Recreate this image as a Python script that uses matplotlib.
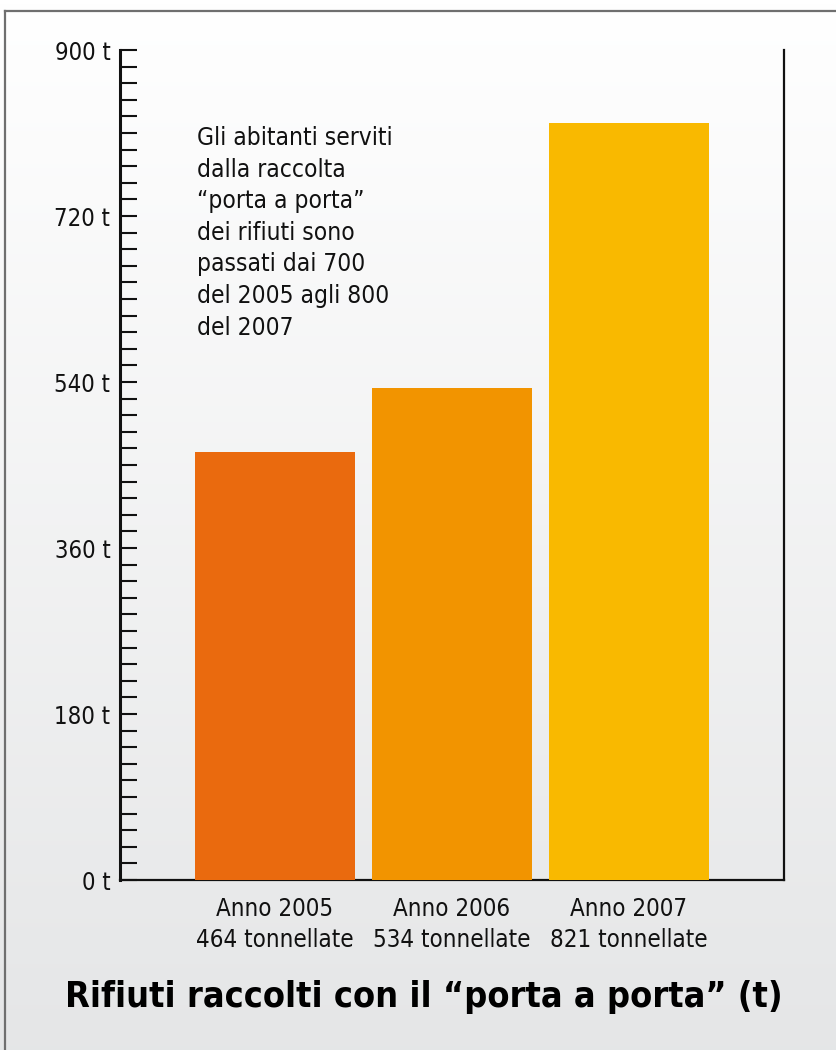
import matplotlib.pyplot as plt
import numpy as np
from matplotlib import font_manager
from matplotlib.lines import Line2D

# prefer a narrow face, like the condensed type of the original
narrow = [f for f in font_manager.fontManager.ttflist
          if "Narrow" in f.name or "ondensed" in str(f.stretch)
          or "ondensed" in f.fname]
FAMILY = narrow[0].name if narrow else "DejaVu Sans"
STRETCH = narrow[0].stretch if narrow else "normal"
plt.rcParams["font.family"] = [FAMILY, "DejaVu Sans"]
plt.rcParams["font.stretch"] = STRETCH

years = ["Anno 2005", "Anno 2006", "Anno 2007"]
tonnes = [464, 534, 821]
colors = ["#EA6A0E", "#F29400", "#F9B900"]
y_labels = [0, 180, 360, 540, 720, 900]
note = ("Gli abitanti serviti\ndalla raccolta\n\u201cporta a porta\u201d\n"
        "dei rifiuti sono\npassati dai 700\ndel 2005 agli 800\ndel 2007")
title = "Rifiuti raccolti con il \u201cporta a porta\u201d (t)"

W, H = 837, 1050
fig = plt.figure(figsize=(W / 100, H / 100), dpi=100)


def fit_width(txt, target_px):
    # shrink or grow a text so that it is as wide as in the original
    r = fig.canvas.get_renderer()
    w = txt.get_window_extent(r).width
    txt.set_fontsize(txt.get_fontsize() * target_px / w)


# background gradient
bg = fig.add_axes([0, 0, 1, 1], zorder=-10)
grad = np.linspace(1.0, 0.0, 256).reshape(-1, 1)
top_c = np.array([1.0, 1.0, 1.0])
bot_c = np.array([0.898, 0.902, 0.906])
img = bot_c + (top_c - bot_c) * grad[..., None]
bg.imshow(img, aspect="auto", extent=[0, 1, 0, 1])
bg.set_axis_off()

# frame lines at top and left
fig.add_artist(Line2D([5 / W, 1], [1 - 11 / H, 1 - 11 / H], color="#6f6f6f", lw=1.6))
fig.add_artist(Line2D([5 / W, 5 / W], [0, 1 - 11 / H], color="#6f6f6f", lw=1.6))

ax = fig.add_axes([120 / W, 1 - 880 / H, (784 - 120) / W, (880 - 50) / H])
ax.set_facecolor("none")

x = np.arange(len(years))
ax.bar(x, tonnes, width=160 / 177, color=colors, zorder=3)

ax.set_xlim(-155 / 177, 2 + 155 / 177)
ax.set_ylim(0, 900)

ax.spines["top"].set_visible(False)
ax.spines["left"].set_linewidth(2.2)
ax.spines["right"].set_linewidth(1.6)
ax.spines["bottom"].set_linewidth(1.6)
for s in ax.spines.values():
    s.set_color("#111111")

ax.set_yticks(np.arange(0, 901, 18), minor=True)
ax.set_yticks(y_labels)
ax.set_yticklabels([f"{v} t" for v in y_labels])
ax.tick_params(axis="y", which="both", direction="in", length=12,
               width=1.5, color="#111111", pad=7)
ax.tick_params(axis="y", which="major", labelcolor="#111111")

ax.set_xticks(x)
ax.set_xticklabels([f"{y}\n{t} tonnellate" for y, t in zip(years, tonnes)],
                   linespacing=1.38)
ax.tick_params(axis="x", length=0, pad=12, labelcolor="#111111")

note_txt = fig.text(197 / W, 1 - 126 / H, note, fontsize=18,
                    va="top", ha="left", linespacing=1.4, color="#111111")
title_txt = fig.text(65 / W, 1 - 997 / H, title, fontsize=31, fontweight="bold",
                     va="center", ha="left", color="#000000")

fig.canvas.draw()
fit_width(title_txt, 717)
first_line = fig.text(0, 0, note.split("\n")[0], fontsize=18)
fit_width(first_line, 195)
note_txt.set_fontsize(first_line.get_fontsize())
first_line.remove()
y_probe = fig.text(0, 0, "900 t", fontsize=15)
fit_width(y_probe, 56)
for lab in ax.get_yticklabels():
    lab.set_fontsize(y_probe.get_fontsize())
y_probe.remove()
x_probe = fig.text(0, 0, "464 tonnellate", fontsize=17)
fit_width(x_probe, 157)
for lab in ax.get_xticklabels():
    lab.set_fontsize(x_probe.get_fontsize())
x_probe.remove()

fig.savefig("out.png", dpi=100)
